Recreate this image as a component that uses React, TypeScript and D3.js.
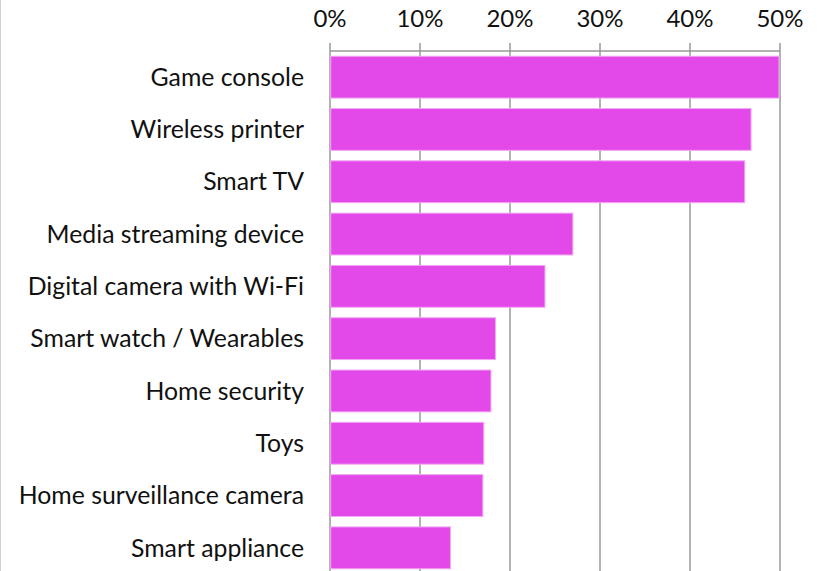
import { useMemo } from "react";
import * as d3 from "d3";

const WIDTH = 821;
const HEIGHT = 571;
const MARGIN = { top: 51, right: 41, bottom: -3, left: 330 };

const categories = [
  "Game console",
  "Wireless printer",
  "Smart TV",
  "Media streaming device",
  "Digital camera with Wi-Fi",
  "Smart watch / Wearables",
  "Home security",
  "Toys",
  "Home surveillance camera",
  "Smart appliance",
];

const shares = [49.8, 46.7, 46.0, 26.9, 23.8, 18.3, 17.8, 17.0, 16.9, 13.3];

const ticks = [0, 10, 20, 30, 40, 50];

const FONT = "Lato, 'Open Sans', sans-serif";

export default function App() {
  const boundsWidth = WIDTH - MARGIN.left - MARGIN.right;
  const boundsHeight = HEIGHT - MARGIN.top - MARGIN.bottom;

  const xScale = useMemo(
    () => d3.scaleLinear().domain([0, 50]).range([0, boundsWidth]),
    [boundsWidth]
  );

  const yScale = useMemo(
    () =>
      d3
        .scaleBand()
        .domain(categories)
        .range([0, boundsHeight])
        .paddingInner(0.2)
        .paddingOuter(0.1),
    [boundsHeight]
  );

  const data = categories.map((c, i) => ({ label: c, value: shares[i] }));

  return (
    <svg
      width={WIDTH}
      height={HEIGHT}
      style={{ position: "absolute", left: 0, top: 0, background: "#fff" }}
    >
      <line x1={0.5} x2={0.5} y1={0} y2={HEIGHT} stroke="#d0d0d0" />
      <g transform={`translate(${MARGIN.left},${MARGIN.top})`}>
        {/* grid + tick marks */}
        {ticks.map((t) => (
          <g key={t} transform={`translate(${xScale(t)},0)`}>
            <line y1={-8} y2={boundsHeight + 10} stroke="#999" strokeWidth={1.5} />
            <text
              y={-24}
              textAnchor="middle"
              fontFamily={FONT}
              fontSize={24}
              fill="#111"
            >
              {t}%
            </text>
          </g>
        ))}
        <line x1={0} x2={boundsWidth} y1={0} y2={0} stroke="#999" strokeWidth={1.5} />

        {data.map((d) => (
          <g key={d.label}>
            <rect
              x={0.75}
              y={yScale(d.label)}
              width={xScale(d.value)}
              height={yScale.bandwidth()}
              fill="#e349e9"
              stroke="#f2a6f4"
              strokeWidth={1}
            />
            <text
              x={-26}
              y={(yScale(d.label) ?? 0) + yScale.bandwidth() / 2}
              dy="0.35em"
              textAnchor="end"
              fontFamily={FONT}
              fontSize={24.8}
              fill="#111"
            >
              {d.label}
            </text>
          </g>
        ))}
      </g>
    </svg>
  );
}
